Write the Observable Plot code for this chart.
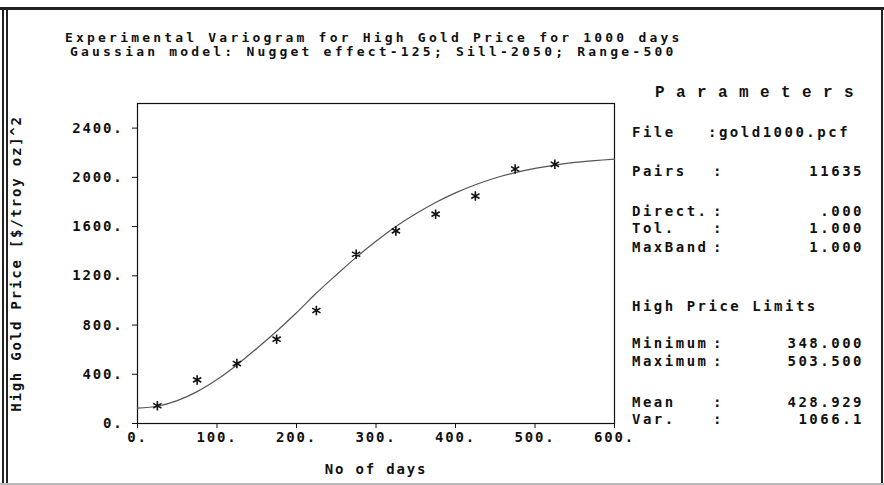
<!DOCTYPE html>
<html>
<head>
<meta charset="utf-8">
<script src="https://cdn.jsdelivr.net/npm/d3@7"></script>
<script src="https://cdn.jsdelivr.net/npm/@observablehq/plot@0.6"></script>
<style>
  html, body { margin: 0; padding: 0; background: #fff; }
  #wrap { position: relative; width: 884px; height: 485px; overflow: hidden; background: #fff; }
  #wrap svg { position: absolute; left: 0; top: 0; }
  .t { position: absolute; font-family: "DejaVu Sans Mono", monospace; font-weight: bold; font-size: 14px; line-height: 14px; letter-spacing: 2.5px; white-space: pre; color: #111; }
  .r { text-align: right; }
  .b { position: absolute; background: #222; }
</style>
</head>
<body>
<div id="wrap"></div>
<script>
// Experimental variogram points
const lagDays = [25, 75, 125, 175, 225, 275, 325, 375, 425, 475, 525];
const gammaValues = [144, 354, 487, 685, 918, 1375, 1565, 1701, 1848, 2068, 2106];

// Fitted model curve
const modelDays = [0, 25, 50, 75, 100, 125, 150, 175, 200, 225, 250, 275, 300, 325, 350, 375, 400, 425, 450, 475, 500, 525, 550, 575, 600];
const modelGamma = [125, 140, 186, 259, 357, 476, 610, 750, 900, 1060, 1207, 1350, 1480, 1600, 1704, 1796, 1874, 1940, 1995, 2038, 2073, 2100, 2121, 2136, 2148];

const xTicks = [0, 100, 200, 300, 400, 500, 600];
const yTicks = [0, 400, 800, 1200, 1600, 2000, 2400];

const titleLines = [
  "Experimental Variogram for High Gold Price for 1000 days",
  "Gaussian model: Nugget effect-125; Sill-2050; Range-500"
];
const paramLabels = ["File", "Pairs", "Direct.", "Tol.", "MaxBand", "High Price Limits", "Minimum", "Maximum", "Mean", "Var."];
const paramValues = ["gold1000.pcf", "11635", ".000", "1.000", "1.000", "", "348.000", "503.500", "428.929", "1066.1"];

const points = lagDays.map((d, i) => ({x: d, y: gammaValues[i]}));
const model = modelDays.map((d, i) => ({x: d, y: modelGamma[i]}));

const fmt = d => d + ".";

const chart = Plot.plot({
  width: 884,
  height: 485,
  marginLeft: 137,
  marginRight: 270,
  marginTop: 103,
  marginBottom: 62,
  x: {domain: [0, 600]},
  y: {domain: [0, 2600]},
  style: {fontFamily: "DejaVu Sans Mono, monospace", fontSize: "14px", fontWeight: "bold", color: "#111", background: "transparent", letterSpacing: "1.8px"},
  marks: [
    Plot.frame({stroke: "#111", strokeWidth: 1.2}),
    Plot.axisY({ticks: yTicks, tickFormat: fmt, tickSize: 5, tickPadding: 9, label: "High Gold Price [$/troy oz]^2", labelAnchor: "center", labelOffset: 126, labelArrow: "none"}),
    Plot.axisX({ticks: xTicks, tickFormat: fmt, tickSize: 5, tickPadding: 4, label: "No of days", labelAnchor: "center", labelOffset: 50, labelArrow: "none"}),
    Plot.line(model, {x: "x", y: "y", curve: "catmull-rom", stroke: "#555", strokeWidth: 1.2}),
    Plot.dot(points, {x: "x", y: "y", symbol: "asterisk", r: 4.5, stroke: "#111", strokeWidth: 1.6})
  ]
});

const wrap = document.getElementById("wrap");
wrap.appendChild(chart);

function addText(txt, left, baseline, cls, extra) {
  const el = document.createElement("div");
  el.className = "t " + (cls || "");
  el.textContent = txt;
  el.style.top = (baseline - 12) + "px";
  if (cls === "r") { el.style.right = (884 - left) + "px"; }
  else el.style.left = left + "px";
  if (extra) Object.assign(el.style, extra);
  wrap.appendChild(el);
  return el;
}

// Title
const titleStyle = {fontSize: "13px", lineHeight: "12px", letterSpacing: "3.2px"};
addText(titleLines[0], 65, 43, "", titleStyle).style.top = "32px";
addText(titleLines[1], 70, 57, "", titleStyle).style.top = "46px";

// Parameters header
addText("Parameters", 655, 97, "", {fontFamily: "'Liberation Mono', monospace", fontSize: "16px", lineHeight: "16px", letterSpacing: "11.4px"});

// Parameters panel
const baselines = [137, 176, 216, 233, 252, 311, 348, 366, 407, 424];
paramLabels.forEach((lab, i) => {
  addText(lab, 632, baselines[i]);
  if (i === 0) {
    addText(":" + paramValues[0], 708, baselines[i]);
  } else if (paramValues[i] !== "") {
    addText(":", 713, baselines[i]);
    addText(paramValues[i], 864, baselines[i], "r");
  }
});

// Window border
[[0, 7, 884, 3], [2, 7, 2, 478], [6, 7, 2, 478], [881, 10, 2, 473]].forEach(([l, t, w, h]) => {
  const b = document.createElement("div");
  b.className = "b";
  Object.assign(b.style, {left: l + "px", top: t + "px", width: w + "px", height: h + "px"});
  wrap.appendChild(b);
});
const bot = document.createElement("div");
bot.className = "b";
Object.assign(bot.style, {left: "0px", top: "483px", width: "884px", height: "2px", background: "#bbb"});
wrap.appendChild(bot);
</script>
</body>
</html>
